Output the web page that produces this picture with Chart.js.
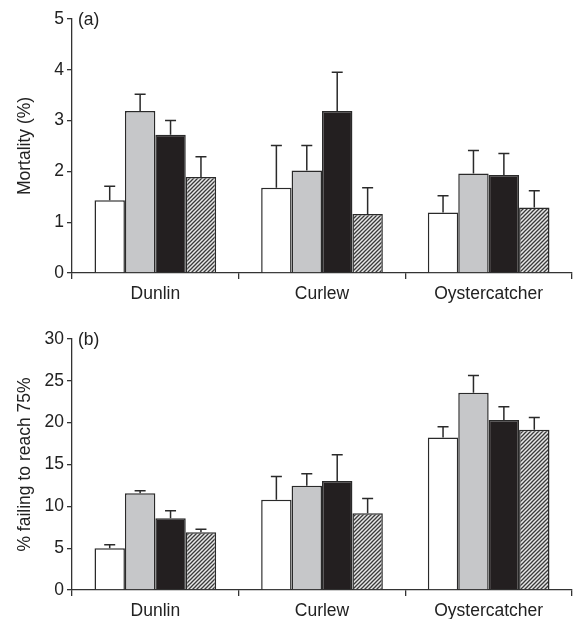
<!DOCTYPE html>
<html>
<head>
<meta charset="utf-8">
<script src="https://cdn.jsdelivr.net/npm/chart.js@4/dist/chart.umd.min.js"></script>
<style>
  body { margin: 0; background: #fff; }
  canvas { display: block; }
</style>
</head>
<body>
<canvas id="mortality" width="574" height="310"></canvas>
<canvas id="failing" width="574" height="309"></canvas>
<script>
// species along the x axis
var categories = ["Dunlin", "Curlew", "Oystercatcher"];

// (a) mortality (%) - bar heights, and where each error bar ends
var mortWhite   = [1.43, 1.68, 1.19];
var mortGrey    = [3.19, 2.02, 1.96];
var mortBlack   = [2.72, 3.19, 1.93];
var mortHatched = [1.89, 1.16, 1.29];
var mortWhiteErr   = [1.71, 2.51, 1.52];
var mortGreyErr    = [3.52, 2.51, 2.41];
var mortBlackErr   = [3.00, 3.95, 2.35];
var mortHatchedErr = [2.29, 1.68, 1.62];

// (b) % failing to reach 75%
var failWhite   = [4.98, 10.79, 18.24];
var failGrey    = [11.55, 12.46, 23.57];
var failBlack   = [8.57, 13.02, 20.31];
var failHatched = [6.89, 9.16, 19.15];
var failWhiteErr   = [5.41, 13.58, 19.51];
var failGreyErr    = [11.87, 13.90, 25.65];
var failBlackErr   = [9.48, 16.17, 21.90];
var failHatchedErr = [7.25, 10.95, 20.63];

var mortTicks = [0, 1, 2, 3, 4, 5];
var failTicks = [0, 5, 10, 15, 20, 25, 30];

var FS = 17.5;
Chart.defaults.font.family = "'Liberation Sans', Arial, sans-serif";
Chart.defaults.font.size = FS;
Chart.defaults.color = "#222";

function hatch() {
  var c = document.createElement("canvas");
  c.width = 4; c.height = 4;
  var g = c.getContext("2d");
  g.fillStyle = "#e8e8e8";
  g.fillRect(0, 0, 4, 4);
  g.strokeStyle = "#3a3a3a";
  g.lineWidth = 1.3;
  g.beginPath();
  g.moveTo(0, 4); g.lineTo(4, 0);
  g.moveTo(-1, 1); g.lineTo(1, -1);
  g.moveTo(3, 5); g.lineTo(5, 3);
  g.stroke();
  return g.createPattern(c, "repeat");
}

var errorBars = {
  id: "errorBars",
  afterDatasetsDraw: function(chart) {
    var ctx = chart.ctx;
    var y = chart.scales.y;
    ctx.save();
    ctx.strokeStyle = "#2a2a2a";
    ctx.lineWidth = 1.5;
    chart.data.datasets.forEach(function(ds, i) {
      var meta = chart.getDatasetMeta(i);
      meta.data.forEach(function(bar, j) {
        var top = y.getPixelForValue(ds.errTop[j]);
        ctx.beginPath();
        ctx.moveTo(bar.x, bar.y);
        ctx.lineTo(bar.x, top);
        ctx.moveTo(bar.x - 5.5, top);
        ctx.lineTo(bar.x + 5.5, top);
        ctx.stroke();
      });
    });
    ctx.restore();
  }
};

var panelLabel = {
  id: "panelLabel",
  afterDraw: function(chart) {
    var ctx = chart.ctx;
    ctx.save();
    ctx.font = FS + "px 'Liberation Sans', Arial, sans-serif";
    ctx.fillStyle = "#222";
    ctx.textBaseline = "middle";
    ctx.fillText(chart.options.plugins.panelLabel.text, chart.chartArea.left + 6, chart.chartArea.top + 1);
    ctx.restore();
  }
};

function plotPanel(id, label, yTitle, tickVals, series, errs, padTop, xHeight) {
  var ctx = document.getElementById(id).getContext("2d");
  var fills = ["#ffffff", "#c6c7c9", "#231f20", hatch()];
  var datasets = series.map(function(vals, i) {
    return {
      data: vals,
      errTop: errs[i],
      backgroundColor: fills[i],
      borderColor: "#2a2a2a",
      borderWidth: 1.5,
      categoryPercentage: 0.73,
      barPercentage: 1.0
    };
  });
  return new Chart(ctx, {
    type: "bar",
    data: { labels: categories, datasets: datasets },
    options: {
      responsive: false,
      animation: false,
      devicePixelRatio: 1,
      layout: { padding: { top: padTop, right: 2, left: 0, bottom: 0 } },
      plugins: {
        legend: { display: false },
        tooltip: { enabled: false },
        panelLabel: { text: label }
      },
      scales: {
        x: {
          offset: true,
          grid: { display: true, drawOnChartArea: false, offset: true, tickLength: 6, color: "#333", lineWidth: 1.3 },
          border: { color: "#333", width: 1.3 },
          ticks: { padding: 5, font: { size: FS } },
          afterFit: function(s) { s.height = xHeight; }
        },
        y: {
          min: tickVals[0],
          max: tickVals[tickVals.length - 1],
          afterBuildTicks: function(s) { s.ticks = tickVals.map(function(v) { return { value: v }; }); },
          grid: { display: true, drawOnChartArea: false, tickLength: 5, color: "#333", lineWidth: 1.3 },
          border: { color: "#333", width: 1.3 },
          ticks: { padding: 3, font: { size: FS } },
          title: { display: true, text: yTitle, font: { size: FS }, padding: { top: 15, bottom: 0 } },
          afterFit: function(s) { s.width = 72; }
        }
      }
    },
    plugins: [errorBars, panelLabel]
  });
}

plotPanel("mortality", "(a)", "Mortality (%)", mortTicks,
  [mortWhite, mortGrey, mortBlack, mortHatched],
  [mortWhiteErr, mortGreyErr, mortBlackErr, mortHatchedErr], 19, 37);

plotPanel("failing", "(b)", "% failing to reach 75%", failTicks,
  [failWhite, failGrey, failBlack, failHatched],
  [failWhiteErr, failGreyErr, failBlackErr, failHatchedErr], 29, 29);
</script>
</body>
</html>
